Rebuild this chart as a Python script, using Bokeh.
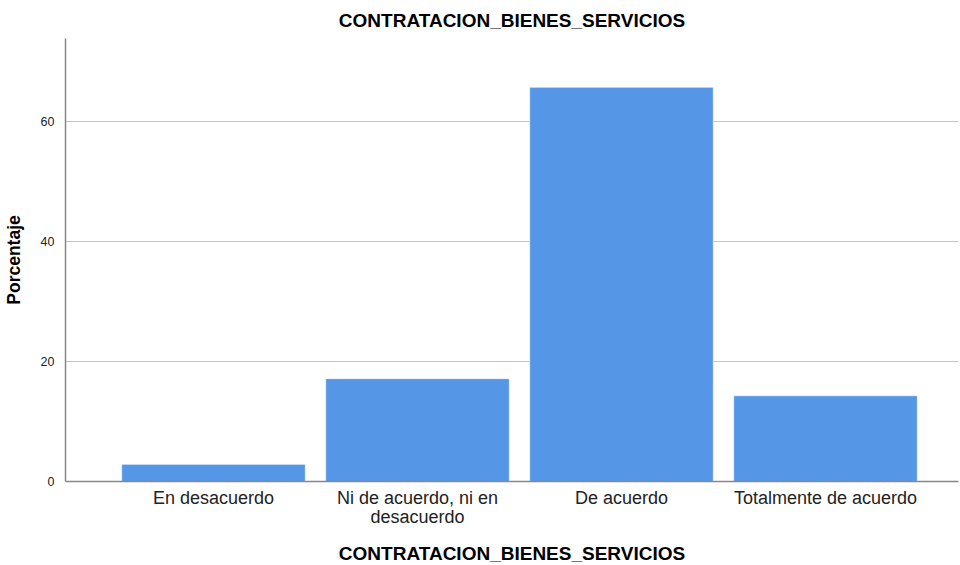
from bokeh.plotting import figure
from bokeh.models import ColumnDataSource, FixedTicker, Range1d
from bokeh.embed import file_html
from bokeh.resources import INLINE

categories = ["En desacuerdo", "Ni de acuerdo, ni en\ndesacuerdo", "De acuerdo", "Totalmente de acuerdo"]
percent = [2.86, 17.14, 65.71, 14.29]
y_ticks = [0, 20, 40, 60]

xs = list(range(1, len(categories) + 1))
src = ColumnDataSource(dict(x=xs, top=percent))

p = figure(frame_width=893, frame_height=443, output_backend="svg", toolbar_location=None,
           x_range=Range1d(0.2745, 4.652), y_range=Range1d(0, 73.83),
           min_border_left=57, min_border_right=2, min_border_top=33, min_border_bottom=10,
           title="CONTRATACION_BIENES_SERVICIOS")
p.title.align = "center"
p.title.text_font = "Liberation Sans"
p.title.text_font_size = "19px"
p.title.text_font_style = "bold"
p.title.text_color = "#000000"
p.title.standoff = 15
p.outline_line_color = None

p.vbar(x="x", top="top", width=0.9, source=src, fill_color="#5597E6",
       line_color="white", line_alpha=0.6, line_width=1)

# y axis
p.yaxis.ticker = FixedTicker(ticks=y_ticks)
p.yaxis.axis_label = "Porcentaje"
p.yaxis.axis_label_text_font = "Liberation Sans"
p.yaxis.axis_label_text_font_style = "bold"
p.yaxis.axis_label_text_font_size = "17.5px"
p.yaxis.axis_label_text_color = "#000000"
p.yaxis.axis_label_standoff = 14
p.yaxis.major_label_text_font = "Liberation Sans"
p.yaxis.major_label_text_font_size = "12.5px"
p.yaxis.major_label_text_color = "#222222"
p.yaxis.major_tick_line_color = None
p.yaxis.minor_tick_line_color = None
p.yaxis.axis_line_color = "#888888"
p.yaxis.axis_line_width = 1.5
p.yaxis.major_label_standoff = 5

# x axis
p.xaxis.ticker = FixedTicker(ticks=xs)
p.xaxis.major_label_overrides = {x: c for x, c in zip(xs, categories)}
p.xaxis.axis_label = "CONTRATACION_BIENES_SERVICIOS"
p.xaxis.axis_label_text_font = "Liberation Sans"
p.xaxis.axis_label_text_font_style = "bold"
p.xaxis.axis_label_text_font_size = "19px"
p.xaxis.axis_label_text_color = "#000000"
p.xaxis.axis_label_standoff = 13
p.xaxis.major_label_text_font = "Liberation Sans"
p.xaxis.major_label_text_font_size = "18px"
p.xaxis.major_label_text_line_height = 0.95
p.xaxis.major_label_text_color = "#222222"
p.xaxis.major_tick_line_color = None
p.xaxis.minor_tick_line_color = None
p.xaxis.axis_line_color = "#888888"
p.xaxis.axis_line_width = 1.5
p.xaxis.major_label_standoff = 0

p.xgrid.grid_line_color = None
p.ygrid.ticker = FixedTicker(ticks=[20, 40, 60])
p.ygrid.grid_line_color = "#c4c4c4"
p.ygrid.grid_line_width = 1

open("out.html", "w").write(file_html(p, INLINE))
